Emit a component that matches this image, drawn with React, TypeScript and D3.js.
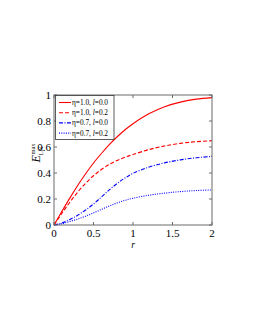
import React from "react";
import * as d3 from "d3";

const rValues = [0, 0.1, 0.2, 0.3, 0.4, 0.5, 0.6, 0.7, 0.8, 0.9, 1.0, 1.2, 1.4, 1.6, 1.8, 2.0];
const seriesA = [0, 0.105, 0.207, 0.304, 0.394, 0.477, 0.55, 0.618, 0.679, 0.733, 0.779, 0.855, 0.91, 0.945, 0.968, 0.98];
const seriesB = [0, 0.09, 0.175, 0.253, 0.321, 0.379, 0.427, 0.466, 0.497, 0.522, 0.542, 0.58, 0.608, 0.628, 0.641, 0.648];
const seriesC = [0, 0.015, 0.042, 0.075, 0.115, 0.162, 0.215, 0.27, 0.32, 0.362, 0.397, 0.445, 0.478, 0.501, 0.517, 0.528];
const seriesD = [0, 0.01, 0.027, 0.046, 0.068, 0.093, 0.12, 0.146, 0.17, 0.19, 0.206, 0.229, 0.245, 0.257, 0.265, 0.27];
const legendEta = ["1.0", "1.0", "0.7", "0.7"];
const legendL = ["0.0", "0.2", "0.0", "0.2"];
const xTicks = [0, 0.5, 1, 1.5, 2];
const yTicks = [0, 0.2, 0.4, 0.6, 0.8, 1];

const colors = ["#ff0000", "#ff0000", "#0000ff", "#0000ff"];
const dashes = ["none", "4,2", "4,1.5,1,1.5", "1,1.3"];

export default function App() {
  const W = 255, H = 330;
  const x0 = 54, x1 = 212, y0 = 225, y1 = 95;
  const x = d3.scaleLinear().domain([0, 2]).range([x0, x1]);
  const y = d3.scaleLinear().domain([0, 1]).range([y0, y1]);
  const line = d3.line<number>().x((_, i) => x(rValues[i])).y((d) => y(d)).curve(d3.curveCatmullRom);
  const all = [seriesA, seriesB, seriesC, seriesD];
  const font = "'Liberation Serif', 'DejaVu Serif', serif";
  const axisColor = "#6b6b6b";
  const tl = 3;
  return (
    <svg width={W} height={H} style={{ position: "absolute", left: 0, top: 0, background: "#fff" }}>
      <g fontFamily={font}>
        {all.map((s, i) => (
          <path key={i} d={line(s) || ""} fill="none" stroke={colors[i]} strokeWidth={1.1} strokeDasharray={dashes[i]} />
        ))}
        <rect x={x0} y={y1} width={x1 - x0} height={y0 - y1} fill="none" stroke={axisColor} strokeWidth={1} />
        {xTicks.map((t) => (
          <g key={"x" + t}>
            <line x1={x(t)} x2={x(t)} y1={y0} y2={y0 - tl} stroke={axisColor} />
            <line x1={x(t)} x2={x(t)} y1={y1} y2={y1 + tl} stroke={axisColor} />
            <text x={x(t)} y={237} textAnchor="middle" fontSize={11} fill="#000">{t}</text>
          </g>
        ))}
        {yTicks.map((t) => (
          <g key={"y" + t}>
            <line x1={x0} x2={x0 + tl} y1={y(t)} y2={y(t)} stroke={axisColor} />
            <line x1={x1} x2={x1 - tl} y1={y(t)} y2={y(t)} stroke={axisColor} />
            <text x={51} y={y(t) + 4} textAnchor="end" fontSize={11} fill="#000">{t}</text>
          </g>
        ))}
        <text x={x(1)} y={248} textAnchor="middle" fontSize={9.5} fontStyle="italic">r</text>
        <g transform="translate(40,153) rotate(-90)">
          <text x={0} y={0} fontSize={12} textAnchor="middle">
            <tspan fontStyle="italic">E</tspan>
            <tspan fontSize={6.5} dy={2.5}>LN</tspan>
            <tspan fontSize={6.5} dx={-8} dy={-8}>max</tspan>
          </text>
        </g>
        <rect x={55.5} y={95.5} width={58.5} height={44} fill="#fff" stroke="#333" strokeWidth={0.8} />
        {legendEta.map((e, i) => {
          const ly = 102.5 + i * 10.2;
          return (
            <g key={"l" + i}>
              <line x1={59} x2={71} y1={ly} y2={ly} stroke={colors[i]} strokeWidth={1.1} strokeDasharray={dashes[i]} />
              <text x={72} y={ly + 2.5} fontSize={7.3} fill="#000">
                η={e}, <tspan fontStyle="italic">l</tspan>={legendL[i]}
              </text>
            </g>
          );
        })}
      </g>
    </svg>
  );
}
